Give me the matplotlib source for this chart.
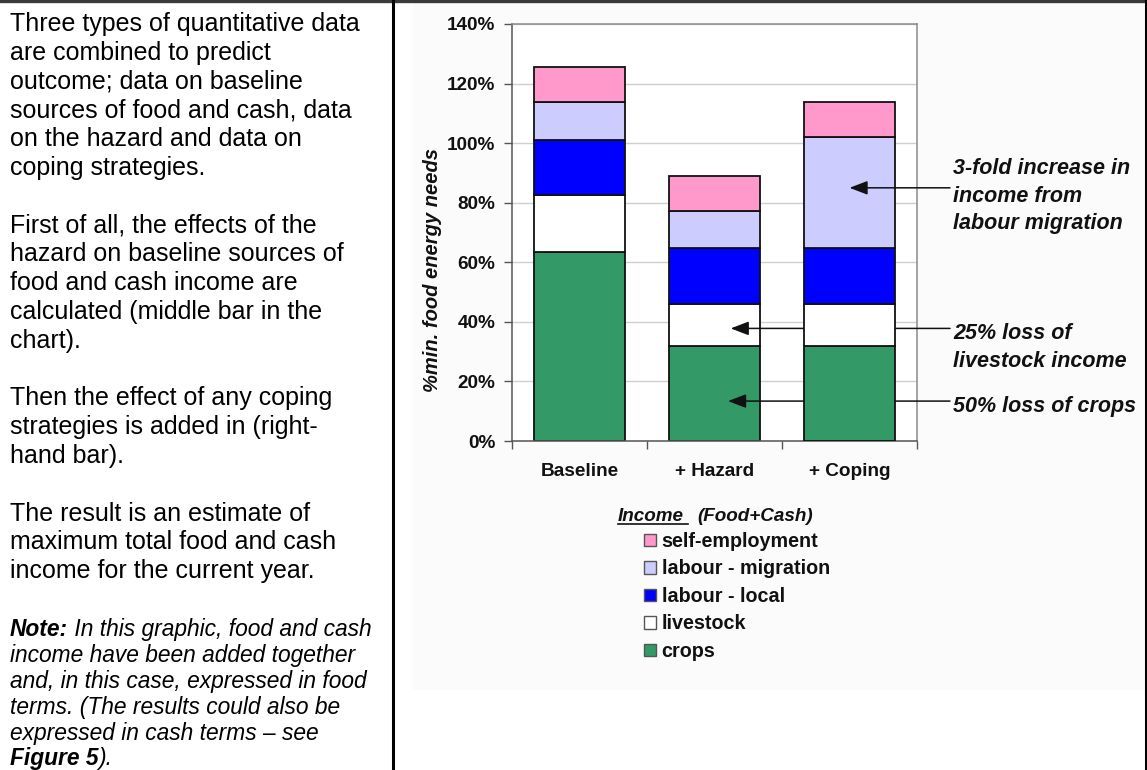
import numpy as np
import matplotlib
matplotlib.use("Agg")
import matplotlib.pyplot as plt
from matplotlib.patches import Rectangle
from matplotlib.lines import Line2D

# ---- data -------------------------------------------------------------
categories = ["Baseline", "+ Hazard", "+ Coping"]
series_names = ["crops", "livestock", "labour - local",
                "labour - migration", "self-employment"]
crops = [63.5, 31.75, 31.75]
livestock = [19.2, 14.4, 14.4]
labour_local = [18.5, 18.5, 18.5]
labour_migration = [12.5, 12.5, 37.5]
self_employment = [11.7, 11.7, 11.7]
series_colors = ["#339966", "#FFFFFF", "#0000FF", "#CCCCFF", "#FF99CC"]
y_ticks = [0, 20, 40, 60, 80, 100, 120, 140]

W, H, DPI = 1147, 770, 100


def fx(px):
    return px / W


def fy(py):
    return 1 - py / H


plt.rcParams["font.family"] = ["Liberation Sans", "DejaVu Sans"]
fig = plt.figure(figsize=(W / DPI, H / DPI), dpi=DPI)
fig.patch.set_facecolor("white")

# chart-area background and page rules
fig.add_artist(Rectangle((fx(413), fy(690)), fx(1145) - fx(413), fy(3) - fy(690),
                         transform=fig.transFigure, facecolor="#fbfbfb",
                         edgecolor="none", zorder=0))
fig.add_artist(Line2D([0, 1], [fy(1), fy(1)], transform=fig.transFigure,
                      color="#3a3a3a", lw=2.4))
fig.add_artist(Line2D([fx(393), fx(393)], [0, fy(1)], transform=fig.transFigure,
                      color="black", lw=2.2))
fig.add_artist(Line2D([fx(1146), fx(1146)], [0, fy(1)], transform=fig.transFigure,
                      color="black", lw=2.2))

# ---- explanatory text on the left ------------------------------------
body = {
    0: "Three types of quantitative data",
    1: "are combined to predict",
    2: "outcome; data on baseline",
    3: "sources of food and cash, data",
    4: "on the hazard and data on",
    5: "coping strategies.",
    7: "First of all, the effects of the",
    8: "hazard on baseline sources of",
    9: "food and cash income are",
    10: "calculated (middle bar in the",
    11: "chart).",
    13: "Then the effect of any coping",
    14: "strategies is added in (right-",
    15: "hand bar).",
    17: "The result is an estimate of",
    18: "maximum total food and cash",
    19: "income for the current year.",
}
for k, line in body.items():
    fig.text(fx(10), fy(31 + 28.8 * k), line, fontsize=18, va="baseline",
             ha="left", color="black")

note_size = 16.4
renderer = fig.canvas.get_renderer()


def mixed_line(y, parts):
    x = fx(10)
    for txt, bold in parts:
        t = fig.text(x, fy(y), txt, fontsize=note_size, style="italic",
                     weight="bold" if bold else "normal", va="baseline",
                     ha="left", color="black")
        bb = t.get_window_extent(renderer)
        x = bb.x1 / W


note_lines = [
    [("Note:", True), (" In this graphic, food and cash", False)],
    [("income have been added together", False)],
    [("and, in this case, expressed in food", False)],
    [("terms. (The results could also be", False)],
    [("expressed in cash terms \u2013 see", False)],
    [("Figure 5", True), (").", False)],
]
for j, parts in enumerate(note_lines):
    mixed_line(636 + 25.9 * j, parts)

# ---- stacked bar chart -----------------------------------------------
ax = fig.add_axes([fx(512), fy(441), (917 - 512) / W, (441 - 24) / H])
ax.set_facecolor("white")
ax.set_zorder(1)

x = np.arange(len(categories))
bottom = np.zeros(len(categories))
containers = []
for name, vals, col in zip(series_names,
                           [crops, livestock, labour_local,
                            labour_migration, self_employment],
                           series_colors):
    bc = ax.bar(x, vals, width=0.667, bottom=bottom, color=col,
                edgecolor="#111111", linewidth=1.3, label=name)
    for i, p in enumerate(bc):
        p.set_zorder(4 if i == 2 else 2)
    bottom += np.array(vals)
    containers.append(bc)

ax.set_xlim(-0.5, 2.5)
ax.set_ylim(0, 140)
ax.set_yticks(y_ticks)
ax.set_yticklabels([f"{v}%" for v in y_ticks])
ax.set_xticks(x)
ax.set_xticklabels(categories)
ax.set_xticks([-0.5, 0.5, 1.5, 2.5], minor=True)
ax.tick_params(axis="x", which="major", length=0, pad=16, labelsize=13.7)
ax.tick_params(axis="x", which="minor", length=6, width=1, color="#555555")
ax.tick_params(axis="y", length=6, width=1, color="#555555", pad=6,
               labelsize=13.6)
for lab in ax.get_xticklabels() + ax.get_yticklabels():
    lab.set_fontweight("bold")
    lab.set_color("#111111")

ax.grid(axis="y", color="#cfcfcf", lw=1)
ax.set_axisbelow(True)
for side in ["top", "right"]:
    ax.spines[side].set_color("#8a8a8a")
    ax.spines[side].set_linewidth(1.1)
for side in ["left", "bottom"]:
    ax.spines[side].set_color("#555555")
    ax.spines[side].set_linewidth(1.1)

fig.text(fx(432), fy(270), "%min. food energy needs", rotation=90,
         fontsize=14.5, style="italic", weight="bold", ha="center",
         va="center", color="#111111")

# ---- pointer arrows and their notes ----------------------------------
arrow_kw = dict(arrowstyle="-|>,head_length=1.1,head_width=0.42",
                mutation_scale=10, lw=1.1, color="#111111",
                shrinkA=0, shrinkB=0)


def pointer(xd, yd, z):
    ax.annotate("", xy=(xd, yd), xycoords="data",
                xytext=(950 / W, yd), textcoords=("figure fraction", "data"),
                arrowprops=arrow_kw, zorder=z, annotation_clip=False)


pointer(2.0, 85.0, 5)
pointer(1.12, 37.8, 3)
pointer(1.10, 13.4, 3)

notes = [
    (173.5, "3-fold increase in"),
    (201.5, "income from"),
    (229.3, "labour migration"),
    (339.0, "25% loss of"),
    (366.7, "livestock income"),
    (411.7, "50% loss of crops"),
]
for yb, txt in notes:
    fig.text(fx(953), fy(yb), txt, fontsize=15.5, style="italic",
             weight="bold", va="baseline", ha="left", color="#111111")

# ---- legend ------------------------------------------------------------
fig.text(fx(618), fy(520.7), "Income", fontsize=13.6, style="italic",
         weight="bold", va="baseline", ha="left", color="#111111")
fig.add_artist(Line2D([fx(618), fx(688)], [fy(524), fy(524)],
                      transform=fig.transFigure, color="#111111", lw=1.2))
fig.text(fx(697), fy(520.7), "(Food+Cash)", fontsize=13.6, style="italic",
         weight="bold", va="baseline", ha="left", color="#111111")

leg = fig.legend(handles=containers[::-1], labels=series_names[::-1],
                 loc="upper left", bbox_to_anchor=(fx(644), fy(532)),
                 frameon=False, borderpad=0, borderaxespad=0,
                 handlelength=0.6, handleheight=0.6, handletextpad=0.3,
                 labelspacing=0.43, prop=dict(size=14.2, weight="bold"))
for h in leg.legend_handles:
    h.set_edgecolor("#555555")
    h.set_linewidth(1)
for t in leg.get_texts():
    t.set_color("#111111")

fig.savefig("out.png", dpi=DPI)
